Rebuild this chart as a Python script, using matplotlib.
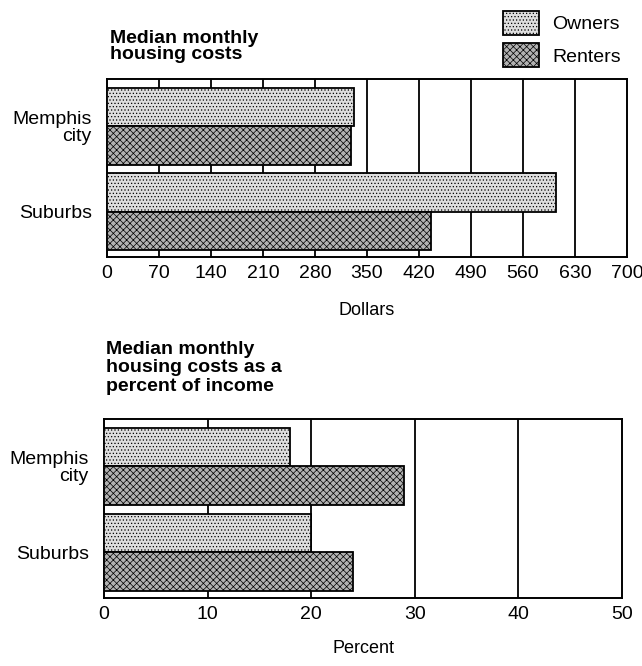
import numpy as np
import matplotlib
matplotlib.use("Agg")
import matplotlib.pyplot as plt

plt.rcParams["font.family"] = ["Liberation Sans", "DejaVu Sans"]
plt.rcParams["hatch.linewidth"] = 0.5

# data
places = ["Memphis\ncity", "Suburbs"]
series = ["Owners", "Renters"]
cost_owners = [333, 605]
cost_renters = [328, 436]
pct_owners = [18, 20]
pct_renters = [29, 24]
cost_ticks = list(range(0, 701, 70))
pct_ticks = list(range(0, 51, 10))

face = {"Owners": "#dedede", "Renters": "#b2b2b2"}
hatch = {"Owners": ".....", "Renters": "xxxxx"}

fig = plt.figure(figsize=(6.42, 6.66), dpi=100)
ax1 = fig.add_axes([107 / 642, 1 - 257 / 666, 520 / 642, 178 / 666])
ax2 = fig.add_axes([104 / 642, 1 - 598 / 666, 518 / 642, 179 / 666])


def draw(ax, owners, renters, ticks, xmax, xlabel, xlabelpad):
    y = np.arange(len(places))
    h = 0.45
    bars = []
    for name, vals, off in [("Owners", owners, -h / 2), ("Renters", renters, h / 2)]:
        b = ax.barh(y + off, vals, height=h, color=face[name], hatch=hatch[name],
                    edgecolor="black", linewidth=1.3, zorder=3, label=name)
        bars.append(b)
    for t in ticks[1:-1]:
        ax.axvline(t, color="black", linewidth=1.3, zorder=1)
    ax.set_xlim(0, xmax)
    ax.set_ylim(1.53, -0.55)
    ax.set_xticks(ticks)
    ax.set_xticklabels([str(t) for t in ticks], fontsize=14)
    ax.set_yticks(y)
    ax.set_yticklabels(places, fontsize=14, linespacing=1.0)
    ax.tick_params(axis="x", length=0, pad=6)
    ax.tick_params(axis="y", length=0, pad=11)
    for s in ax.spines.values():
        s.set_linewidth(1.4)
    ax.set_xlabel(xlabel, fontsize=13, labelpad=xlabelpad)
    return bars


bars = draw(ax1, cost_owners, cost_renters, cost_ticks, 700, "Dollars", 14)
draw(ax2, pct_owners, pct_renters, pct_ticks, 50, "Percent", 12)

fig.text(110 / 642, 1 - 30 / 666, "Median monthly\nhousing costs", fontsize=14,
         fontweight="bold", va="top", ha="left", linespacing=0.95)
fig.text(106 / 642, 1 - 341 / 666, "Median monthly\nhousing costs as a\npercent of income",
         fontsize=14, fontweight="bold", va="top", ha="left", linespacing=1.1)

fig.legend(handles=bars, labels=series, loc="upper right",
           bbox_to_anchor=(629 / 642, 1 - 3 / 666), borderaxespad=0,
           frameon=False, fontsize=14,
           handlelength=1.85, handleheight=1.5, labelspacing=0.45, handletextpad=0.7)

fig.savefig("out.png", dpi=100, facecolor="white")
